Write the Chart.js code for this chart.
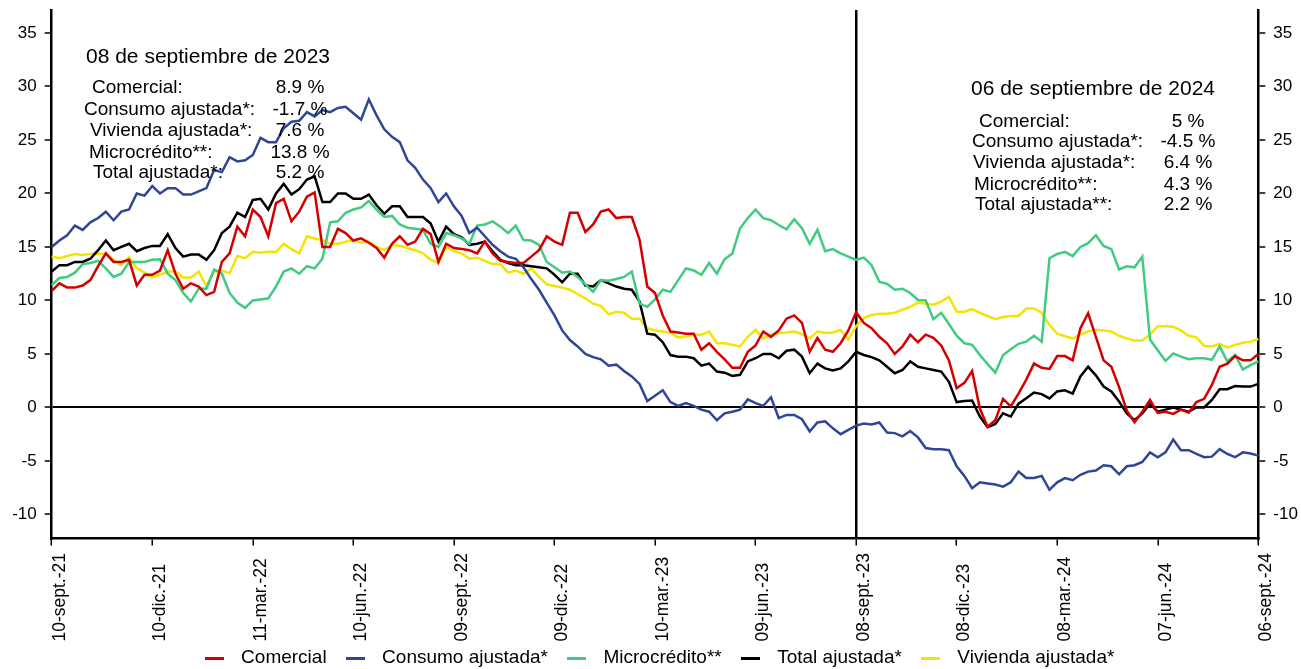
<!DOCTYPE html>
<html lang="es">
<head>
<meta charset="utf-8">
<title>Cartera: crecimiento real anual</title>
<script src="https://cdn.jsdelivr.net/npm/chart.js@4.4.1/dist/chart.umd.min.js"></script>
<style>
  html, body { margin: 0; padding: 0; background: #fff; }
  #grafico { display: block; }
</style>
</head>
<body>
<canvas id="grafico" width="1301" height="669"></canvas>
<script>
// Semanas: viernes desde el 10-sept-21 hasta el 06-sept-24 (157 cortes)
const MESES = ['ene.', 'feb.', 'mar.', 'abr.', 'may.', 'jun.', 'jul.', 'ago.', 'sept.', 'oct.', 'nov.', 'dic.'];
const semanas = [];
for (let i = 0; i < 157; i++) {
  const d = new Date(Date.UTC(2021, 8, 10) + i * 7 * 86400000);
  semanas.push(String(d.getUTCDate()).padStart(2, '0') + '-' + MESES[d.getUTCMonth()] + '-' + String(d.getUTCFullYear()).slice(2));
}
const PASO_ETIQUETAS = 13;   // una etiqueta por trimestre
const CORTE_INICIAL = 104;    // 08-sept-23
const CORTE_FINAL = 156;      // 06-sept-24

// Crecimiento real anual (%)
const comercial = [
  10.9, 11.6, 11.2, 11.2, 11.4, 11.9, 13.2, 14.4, 13.6, 13.6, 13.8, 11.4, 12.4, 12.4, 12.8, 14.7, 12.5, 11.1, 11.6, 11.3,
  10.5, 10.8, 13.6, 14.4, 16.9, 16.0, 18.5, 17.8, 16.0, 19.1, 19.5, 17.4, 18.3, 19.7, 20.1, 15.0, 15.0, 16.7, 16.3, 15.6,
  15.8, 15.4, 14.9, 14.0, 15.3, 16.0, 15.2, 15.5, 16.7, 16.2, 13.6, 15.3, 14.9, 14.8, 14.7, 14.4, 15.5, 14.4, 13.7, 13.6,
  13.5, 13.5, 14.1, 14.7, 16.0, 15.5, 15.2, 18.2, 18.2, 16.4, 17.1, 18.3, 18.5, 17.7, 17.8, 17.8, 15.7, 11.3, 10.7, 8.6,
  7.1, 7.0, 6.9, 6.9, 5.4, 6.0, 5.2, 4.5, 3.7, 3.7, 5.2, 5.8, 7.1, 6.6, 7.2, 8.3, 8.6, 7.9, 5.2, 6.5,
  5.4, 5.2, 6.0, 7.2, 8.9, 7.9, 7.4, 6.6, 6.0, 5.0, 5.7, 6.8, 6.1, 6.8, 6.5, 5.8, 4.4, 1.8, 2.3, 3.4,
  -0.1, -1.8, -1.2, 0.8, 0.1, 1.3, 2.6, 4.1, 3.7, 3.6, 4.8, 4.8, 4.4, 7.4, 8.8, 6.6, 4.4, 3.8, 1.9, -0.3,
  -1.4, -0.4, 0.7, -0.5, -0.4, -0.6, -0.2, -0.5, 0.5, 0.8, 2.1, 3.8, 4.1, 4.8, 4.4, 4.4, 5
];
const consumo = [
  15.0, 15.6, 16.1, 17.0, 16.6, 17.3, 17.7, 18.3, 17.5, 18.3, 18.5, 20.0, 19.8, 20.7, 20.0, 20.5, 20.5, 19.9, 19.9, 20.2,
  20.5, 22.2, 22.0, 23.4, 23.0, 23.1, 23.6, 25.2, 24.8, 24.8, 26.1, 26.7, 26.8, 27.6, 27.2, 27.8, 27.6, 28.0, 28.1, 27.5,
  26.9, 28.8, 27.3, 26.0, 25.3, 24.8, 23.1, 22.4, 21.3, 20.5, 19.2, 20.0, 18.8, 17.9, 16.3, 16.8, 16.0, 15.2, 14.6, 14.1,
  13.9, 13.1, 12.0, 11.0, 9.8, 8.6, 7.2, 6.3, 5.7, 5.0, 4.7, 4.5, 3.9, 4.0, 3.4, 2.9, 2.2, 0.6, 1.1, 1.6,
  0.5, 0.15, 0.4, 0.15, -0.2, -0.4, -1.2, -0.55, -0.4, -0.2, 0.75, 0.4, 0.15, 0.95, -1.0, -0.7, -0.7, -1.1, -2.25, -1.4,
  -1.3, -1.95, -2.5, -2.1, -1.7, -1.5, -1.6, -1.4, -2.35, -2.4, -2.7, -2.2, -2.8, -3.8, -3.9, -3.9, -4.0, -5.5, -6.4, -7.55,
  -7.0, -7.1, -7.2, -7.4, -7.0, -6.0, -6.6, -6.6, -6.4, -7.7, -7.0, -6.6, -6.8, -6.3, -6.0, -5.9, -5.4, -5.5, -6.25, -5.5,
  -5.4, -5.1, -4.2, -4.65, -4.2, -3.0, -4.0, -4.0, -4.35, -4.65, -4.6, -3.9, -4.35, -4.65, -4.2, -4.3, -4.5
];
const microcredito = [
  11.45, 12.1, 12.2, 12.6, 13.4, 13.5, 13.7, 13.0, 12.2, 12.5, 13.6, 13.6, 13.6, 13.8, 13.85, 12.5, 11.9, 10.7, 9.9, 11.1,
  11.1, 12.9, 12.5, 10.7, 9.8, 9.3, 10.0, 10.1, 10.2, 11.3, 12.7, 13.0, 12.5, 13.2, 13.0, 13.9, 17.3, 17.4, 18.2, 18.5,
  18.7, 19.3, 18.5, 17.8, 17.9, 17.1, 16.8, 16.7, 16.6, 15.3, 15.0, 16.3, 16.1, 15.8, 15.3, 17.0, 17.1, 17.4, 16.9, 16.3,
  17.0, 15.65, 15.6, 15.2, 13.6, 13.1, 12.6, 12.7, 12.2, 11.5, 10.8, 11.9, 11.85, 12.0, 12.2, 12.7, 9.7, 9.4, 10.1, 11.0,
  10.8, 11.9, 13.0, 12.8, 12.4, 13.5, 12.5, 13.85, 14.4, 16.75, 17.7, 18.5, 17.7, 17.5, 17.05, 16.65, 17.6, 16.75, 15.3, 16.6,
  14.6, 14.8, 14.4, 14.1, 13.8, 14.0, 13.3, 11.75, 11.55, 11.0, 11.1, 10.7, 10.05, 10.0, 8.25, 8.85, 7.8, 6.7, 6.0, 5.85,
  4.9, 4.05, 3.25, 4.9, 5.45, 5.95, 6.15, 6.7, 6.15, 13.95, 14.35, 14.55, 14.15, 15.0, 15.35, 16.1, 15.1, 14.8, 12.9, 13.2,
  13.1, 14.1, 6.35, 5.35, 4.35, 5.05, 4.75, 4.5, 4.6, 4.6, 4.45, 5.7, 4.3, 4.9, 3.55, 3.95, 4.3
];
const totalAjustada = [
  12.7, 13.3, 13.3, 13.6, 13.6, 13.9, 14.7, 15.6, 14.7, 15.0, 15.3, 14.6, 14.9, 15.1, 15.1, 16.2, 14.9, 14.1, 14.3, 14.3,
  13.8, 14.7, 16.3, 16.9, 18.2, 17.8, 19.4, 19.5, 18.5, 20.0, 20.9, 19.9, 20.4, 21.3, 21.6, 19.2, 19.2, 20.0, 20.0, 19.5,
  19.5, 19.9, 18.9, 18.1, 18.8, 18.8, 17.8, 17.8, 17.8, 17.2, 15.5, 16.9, 16.2, 15.9, 15.2, 15.3, 15.5, 14.6, 13.8, 13.5,
  13.3, 13.3, 13.2, 13.1, 13.0, 12.4, 11.7, 12.5, 12.5, 11.4, 11.3, 11.9, 11.6, 11.3, 11.1, 11.0, 9.9, 6.9, 6.8, 6.1,
  4.9, 4.75, 4.75, 4.6, 3.9, 4.1, 3.35, 3.25, 2.95, 3.05, 4.3, 4.6, 5.0, 5.0, 4.6, 5.3, 5.4, 4.75, 3.2, 4.1,
  3.65, 3.45, 3.65, 4.3, 5.2, 4.9, 4.7, 4.4, 3.8, 3.2, 3.5, 4.3, 3.8, 3.65, 3.5, 3.35, 2.4, 0.5, 0.6, 0.65,
  -0.85, -1.85, -1.55, -0.55, -0.85, 0.35, 0.85, 1.4, 1.25, 0.85, 1.5, 1.6, 1.3, 2.9, 3.8, 3.0, 1.95, 1.5, 0.55, -0.55,
  -1.2, -0.55, 0.35, -0.4, -0.2, 0.0, -0.2, -0.4, 0.0, 0.0, 0.7, 1.7, 1.7, 2.0, 1.95, 1.95, 2.2
];
const vivienda = [
  14.1, 13.95, 14.15, 14.35, 14.25, 14.35, 14.4, 14.35, 13.8, 13.3, 14.05, 13.0, 12.6, 12.15, 12.4, 12.7, 12.7, 12.15, 12.15, 12.7,
  11.35, 12.7, 12.8, 12.55, 14.15, 13.95, 14.55, 14.45, 14.55, 14.55, 15.3, 14.8, 14.4, 16.0, 15.8, 15.65, 15.3, 15.3, 15.5, 15.6,
  15.4, 15.5, 15.0, 14.7, 15.2, 15.1, 14.9, 14.7, 14.4, 13.8, 13.5, 15.0, 14.6, 14.4, 13.9, 14.0, 13.7, 13.4, 13.4, 12.6,
  12.8, 12.5, 13.0, 12.2, 11.5, 11.35, 11.2, 11.0, 10.6, 10.2, 9.7, 9.5, 8.7, 8.95, 8.85, 8.3, 8.3, 7.4, 7.2, 7.1,
  6.95, 6.55, 6.6, 6.8, 6.8, 7.1, 6.0, 6.0, 5.85, 5.7, 6.6, 7.25, 6.45, 6.8, 6.95, 7.0, 7.1, 6.85, 6.45, 7.1,
  6.95, 7.0, 7.25, 6.35, 7.6, 8.35, 8.65, 8.75, 8.75, 8.85, 9.15, 9.4, 9.8, 9.7, 9.6, 9.9, 10.35, 8.95, 8.95, 9.2,
  8.85, 8.55, 8.25, 8.45, 8.55, 8.55, 9.25, 9.25, 8.85, 7.7, 6.9, 6.65, 6.45, 6.8, 7.1, 7.25, 7.2, 7.1, 6.7, 6.45,
  6.25, 6.25, 6.8, 7.6, 7.6, 7.55, 7.2, 6.7, 6.55, 5.75, 5.7, 5.95, 5.6, 5.85, 6.05, 6.15, 6.4
];

// Series, en el orden de la leyenda
const nombres = ['Comercial', 'Consumo ajustada*', 'Microcrédito**', 'Total ajustada*', 'Vivienda ajustada*'];
const colores = ['#D40000', '#2F4596', '#3FCB80', '#000000', '#F2E600'];
const valores = [comercial, consumo, microcredito, totalAjustada, vivienda];

// Recuadros de resumen: etiquetas y la serie de la que sale cada cifra
const resumenSeries = [comercial, consumo, vivienda, microcredito, totalAjustada];
const resumenInicial = ['Comercial:', 'Consumo ajustada*:', 'Vivienda ajustada*:', 'Microcrédito**:', 'Total ajustada*:'];
const resumenFinal = ['Comercial:', 'Consumo ajustada*:', 'Vivienda ajustada*:', 'Microcrédito**:', 'Total ajustada**:'];
const tituloInicial = '08 de septiembre de 2023';
const tituloFinal = '06 de septiembre de 2024';

const FUENTE = "'Liberation Sans', Arial, sans-serif";

// Marca corta de color para la leyenda
function marcaLeyenda(color) {
  const c = document.createElement('canvas');
  c.width = 19; c.height = 3;
  const g = c.getContext('2d');
  g.fillStyle = color;
  g.fillRect(0, 0, 19, 3);
  return c;
}

// Textos de resumen para los dos cortes
const resumenPlugin = {
  id: 'resumen',
  afterDraw(chart) {
    const ctx = chart.ctx;
    ctx.save();
    ctx.fillStyle = '#000';
    ctx.textBaseline = 'middle';
    const bloque = (titulo, tx, ty, etiquetas, xs, ys, indice, vx) => {
      ctx.font = '21px ' + FUENTE;
      ctx.textAlign = 'center';
      ctx.fillText(titulo, tx, ty);
      ctx.font = '19px ' + FUENTE;
      etiquetas.forEach((t, k) => {
        ctx.textAlign = 'left';
        ctx.fillText(t, xs[k], ys[k]);
        ctx.textAlign = 'center';
        ctx.fillText(String(resumenSeries[k][indice]) + ' %', vx, ys[k]);
      });
    };
    bloque(tituloInicial, 208, 57, resumenInicial, [92, 84, 90, 89, 93], [88, 110, 131, 153, 173], CORTE_INICIAL, 300);
    bloque(tituloFinal, 1093, 89, resumenFinal, [979, 972, 973, 974, 975], [122, 142, 163, 185, 205], CORTE_FINAL, 1188);
    ctx.restore();
  }
};

// Fechas trimestrales del eje X, verticales y apoyadas en su extremo inferior
const fechasEjeX = {
  id: 'fechasEjeX',
  afterDraw(chart) {
    const ctx = chart.ctx;
    const eje = chart.scales.x;
    const base = chart.chartArea.bottom + 103;
    ctx.save();
    ctx.fillStyle = '#000';
    ctx.font = '17.5px ' + FUENTE;
    ctx.textAlign = 'left';
    ctx.textBaseline = 'middle';
    semanas.forEach((s, i) => {
      if (i % PASO_ETIQUETAS !== 0) return;
      ctx.save();
      ctx.translate(eje.getPixelForTick(i) + 8, base);
      ctx.rotate(-Math.PI / 2);
      ctx.fillText(s, 0, 0);
      ctx.restore();
    });
    ctx.restore();
  }
};

const ejeY = (posicion, ancho, conLineaCero) => ({
  type: 'linear',
  position: posicion,
  min: -12.25,
  max: 37.15,
  ticks: {
    stepSize: 5,
    includeBounds: false,
    color: '#000',
    padding: 8,
    font: { family: FUENTE, size: 17 }
  },
  grid: {
    drawOnChartArea: conLineaCero,
    color: c => (c.tick && c.tick.value === 0) ? '#000' : 'rgba(0,0,0,0)',
    lineWidth: 2,
    tickColor: '#000',
    tickLength: 7,
    tickWidth: 1.5
  },
  border: { color: '#000', width: 2.5 },
  afterFit: s => {
    s.width = ancho;
    // las etiquetas extremas no llegan al borde: sin margen extra arriba ni abajo
    s.paddingTop = 0;
    s.paddingBottom = 0;
  }
});

new Chart(document.getElementById('grafico'), {
  type: 'line',
  data: {
    labels: semanas,
    datasets: valores.map((v, k) => ({
      label: nombres[k],
      data: v,
      borderColor: colores[k],
      backgroundColor: colores[k],
      borderWidth: 2.5,
      pointRadius: 0,
      tension: 0,
      yAxisID: 'y'
    }))
  },
  options: {
    responsive: false,
    animation: false,
    events: [],
    layout: { padding: { top: 10, left: 10, right: 0, bottom: -8.5 } },
    scales: {
      x: {
        type: 'category',
        offset: false,
        ticks: {
          autoSkip: false,
          maxRotation: 0,
          callback: () => ''
        },
        grid: {
          drawOnChartArea: true,
          color: c => c.index === CORTE_INICIAL ? '#000' : 'rgba(0,0,0,0)',
          lineWidth: 2.5,
          tickColor: c => c.index % PASO_ETIQUETAS === 0 ? '#000' : 'rgba(0,0,0,0)',
          tickLength: 7,
          tickWidth: 1.5
        },
        border: { color: '#000', width: 2.5 },
        afterFit: s => { s.height = 99; }
      },
      y: ejeY('left', 41.7, true),
      y2: ejeY('right', 42.7, false)
    },
    plugins: {
      tooltip: { enabled: false },
      legend: {
        position: 'bottom',
        labels: {
          color: '#000',
          font: { family: FUENTE, size: 19 },
          usePointStyle: true,
          pointStyleWidth: 35,
          padding: 11,
          generateLabels: chart => Chart.defaults.plugins.legend.labels.generateLabels(chart).map((it, k) => {
            it.pointStyle = marcaLeyenda(colores[k]);
            return it;
          })
        }
      }
    }
  },
  plugins: [resumenPlugin, fechasEjeX]
});
</script>
</body>
</html>
